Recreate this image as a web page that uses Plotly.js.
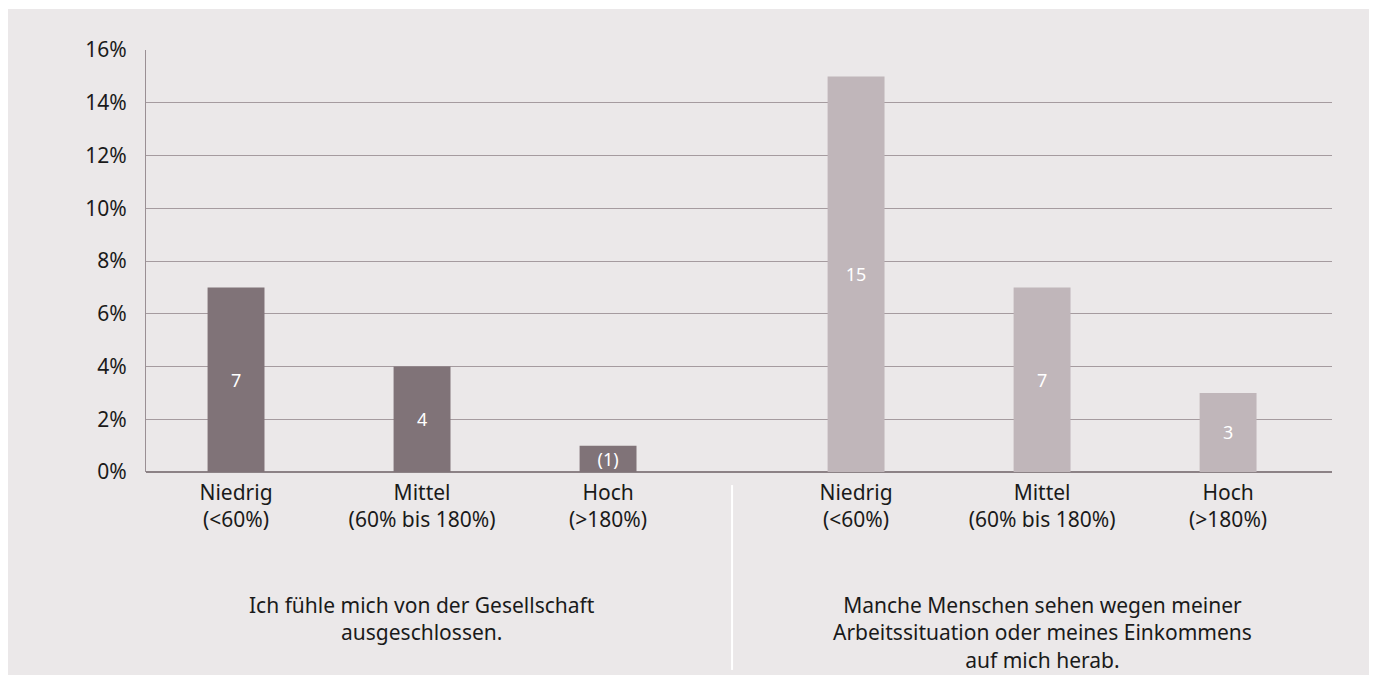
<!DOCTYPE html>
<html>
<head>
<meta charset="utf-8">
<script src="https://cdn.plot.ly/plotly-3.0.1.min.js"></script>
<style>
  html, body { margin: 0; padding: 0; background: #ffffff; width: 1375px; height: 684px; overflow: hidden; }
  #chart { position: absolute; left: 8px; top: 9px; width: 1361px; height: 666px; }
</style>
</head>
<body>
<div id="chart"></div>
<script>
// Data
const categories = ["Niedrig<br>(<60%)", "Mittel<br>(60% bis 180%)", "Hoch<br>(>180%)"];
const group1Values = [7, 4, 1];
const group1Labels = ["7", "4", "(1)"];
const group2Values = [15, 7, 3];
const group2Labels = ["15", "7", "3"];
const groupTitles = [
  "Ich fühle mich von der Gesellschaft<br>ausgeschlossen.",
  "Manche Menschen sehen wegen meiner<br>Arbeitssituation oder meines Einkommens<br>auf mich herab."
];

const FONT = "Noto Sans, sans-serif";
const groupOffset = 3 + 1 / 3; // spacing between the two groups (in slot units)
const x1 = categories.map((c, i) => i);
const x2 = categories.map((c, i) => i + groupOffset);

const barText = { color: "#ffffff", size: 18, family: FONT };

const traces = [
  {
    type: "bar", x: x1, y: group1Values, text: group1Labels,
    textposition: "inside", insidetextanchor: "middle", textangle: 0, constraintext: "none",
    textfont: barText,
    marker: { color: "#807378" }, width: 0.306, hoverinfo: "skip", cliponaxis: false
  },
  {
    type: "bar", x: x2, y: group2Values, text: group2Labels,
    textposition: "inside", insidetextanchor: "middle", textangle: 0, constraintext: "none",
    textfont: barText,
    marker: { color: "#c0b6ba" }, width: 0.306, hoverinfo: "skip", cliponaxis: false
  }
];

const sepX = (categories.length - 1 + groupOffset) / 2;

const layout = {
  width: 1361, height: 666,
  paper_bgcolor: "#ebe8e9", plot_bgcolor: "#ebe8e9",
  margin: { l: 138, r: 37, t: 41, b: 203 },
  showlegend: false,
  barmode: "overlay",
  font: { family: FONT, size: 21, color: "#1a1a1a" },
  xaxis: {
    range: [-0.484, 5.892],
    tickmode: "array",
    tickvals: x1.concat(x2),
    ticktext: categories.concat(categories),
    showgrid: false, zeroline: false, showline: false,
    ticks: "", ticklabelstandoff: 6,
    tickfont: { size: 21, family: FONT, color: "#1a1a1a" },
    fixedrange: true
  },
  yaxis: {
    range: [0, 16], dtick: 2, ticksuffix: "%",
    showgrid: true, gridcolor: "#a59b9f", gridwidth: 1,
    zeroline: true, zerolinecolor: "#8c8286", zerolinewidth: 2,
    showline: true, linecolor: "#9a8f94", linewidth: 1,
    ticks: "", ticklabelstandoff: 14,
    tickfont: { size: 21, family: FONT, color: "#1a1a1a" },
    fixedrange: true
  },
  shapes: [
    {
      type: "line", xref: "x", yref: "paper",
      x0: sepX, x1: sepX, y0: -0.031, y1: -0.469,
      line: { color: "#ffffff", width: 2 }
    }
  ],
  annotations: [
    {
      xref: "x", yref: "paper", x: 1, y: 0, yanchor: "top", yshift: -117,
      text: groupTitles[0], showarrow: false, align: "center",
      font: { size: 21, family: FONT, color: "#1a1a1a" }
    },
    {
      xref: "x", yref: "paper", x: 1 + groupOffset, y: 0, yanchor: "top", yshift: -117,
      text: groupTitles[1], showarrow: false, align: "center",
      font: { size: 21, family: FONT, color: "#1a1a1a" }
    }
  ]
};

Plotly.newPlot("chart", traces, layout, { displayModeBar: false, staticPlot: true });
</script>
</body>
</html>
